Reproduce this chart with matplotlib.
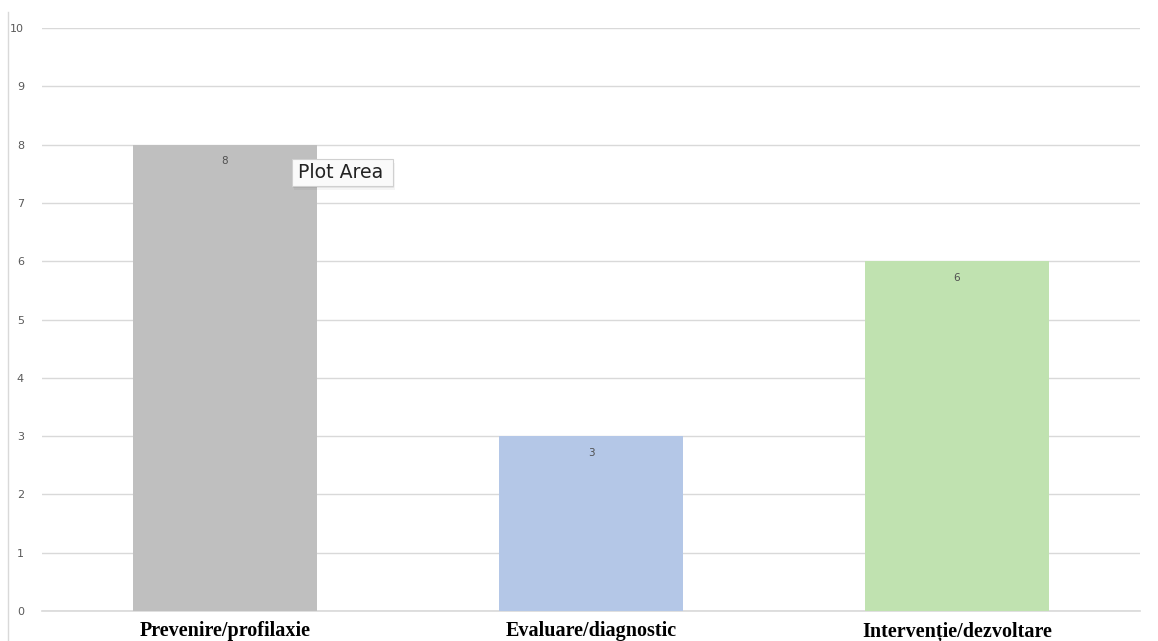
import matplotlib
matplotlib.use("Agg")
import matplotlib.pyplot as plt
from matplotlib.lines import Line2D
from matplotlib.patches import Rectangle

# chart data
categories = ["Prevenire/profilaxie", "Evaluare/diagnostic", "Intervenție/dezvoltare"]
values = [8, 3, 6]
bar_colors = ["#BFBFBF", "#B4C7E7", "#C0E2B0"]
y_ticks = list(range(0, 11))

W, H = 1158, 641
fig = plt.figure(figsize=(W / 100, H / 100), dpi=100)
ax = fig.add_axes([42 / W, 30 / H, 1098 / W, 583 / H])

x = list(range(len(categories)))
bars = ax.bar(x, values, width=0.505, color=bar_colors, zorder=2)

# value labels just inside the top of each bar
for rect, v in zip(bars, values):
    ax.annotate(str(v), (rect.get_x() + rect.get_width() / 2, v),
                xytext=(0, -12), textcoords="offset points",
                ha="center", va="center", fontsize=7.5, color="#505050")

ax.set_xlim(-0.5, 2.5)
ax.set_ylim(0, 10)
ax.set_yticks(y_ticks)
ax.set_yticklabels([str(t) for t in y_ticks], fontsize=8, color="#595959")
ax.tick_params(axis="y", length=0, pad=13)
ax.set_xticks(x)
ax.set_xticklabels(categories, family="Liberation Serif", fontweight="bold",
                   fontsize=14.5, color="black")
ax.tick_params(axis="x", length=0, pad=7.5)
ax.grid(axis="y", color="#D9D9D9", linewidth=1, zorder=0)
ax.axhline(0, color="#D9D9D9", linewidth=1.2, zorder=1, clip_on=False)
for s in ax.spines.values():
    s.set_visible(False)

# thin vertical line on the far left
fig.add_artist(Line2D([8 / W, 8 / W], [0, 1 - 12 / H], color="#D9D9D9",
                      linewidth=1, transform=fig.transFigure))

# "Plot Area" tooltip with a soft shadow
for off, a in [(4, 0.04), (2, 0.06)]:
    fig.add_artist(Rectangle(((292 + off / 2) / W, 1 - (186 + off) / H),
                             101 / W, 27 / H, transform=fig.transFigure,
                             facecolor="black", edgecolor="none", alpha=a))
fig.add_artist(Rectangle((292 / W, 1 - 186 / H), 101 / W, 27 / H,
                         transform=fig.transFigure, facecolor="#FAFAFA",
                         edgecolor="#D0D0D0", linewidth=0.8))
fig.text(298 / W, 1 - 173 / H, "Plot Area", fontsize=13.6, color="#222222",
         ha="left", va="center")

fig.savefig("out.png", dpi=100)
